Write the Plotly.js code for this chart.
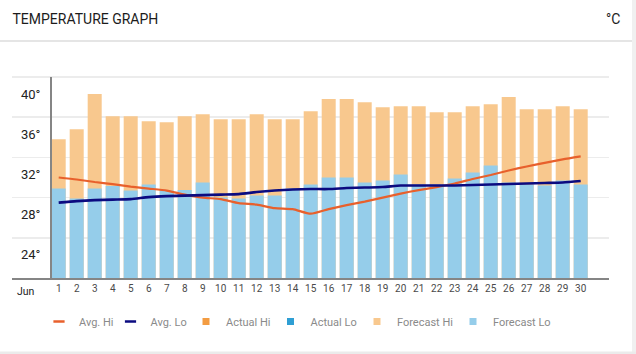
<!DOCTYPE html>
<html>
<head>
<meta charset="utf-8">
<script src="https://cdn.plot.ly/plotly-3.0.1.min.js"></script>
<style>
html,body{margin:0;padding:0;background:#fff;overflow:hidden;}
#chart{width:636px;height:354px;}
</style>
</head>
<body>
<div id="chart"></div>
<script>
// ---- data ----
const days = [1,2,3,4,5,6,7,8,9,10,11,12,13,14,15,16,17,18,19,20,21,22,23,24,25,26,27,28,29,30];
const dayLabels = ['1','2','3','4','5','6','7','8','9','10','11','12','13','14','15','16','17','18','19','20','21','22','23','24','25','26','27','28','29','30'];
const monthLabel = 'Jun';
const yTickVals = [24, 28, 32, 36, 40];
const yTickText = ['24°', '28°', '32°', '36°', '40°'];
const forecastHi = [33.8, 34.8, 38.3, 36.1, 36.1, 35.6, 35.5, 36.1, 36.3, 35.8,
                    35.8, 36.3, 35.8, 35.8, 36.6, 37.8, 37.8, 37.5, 37.0, 37.1,
                    37.1, 36.5, 36.5, 37.1, 37.3, 38.0, 36.8, 36.8, 37.1, 36.8];
const forecastLo = [28.9, 27.9, 28.9, 29.15, 28.7, 29.3, 28.7, 28.75, 29.5, 28.0,
                    27.9, 28.2, 28.2, 28.9, 29.3, 30.0, 30.0, 29.5, 29.7, 30.3,
                    29.3, 29.3, 29.9, 30.5, 31.2, 29.5, 29.3, 29.2, 29.7, 29.3];
const avgHi = [30.0, 29.8, 29.55, 29.35, 29.1, 28.9, 28.7, 28.3, 28.0, 27.85,
               27.45, 27.3, 26.95, 26.85, 26.4, 26.85, 27.25, 27.6, 28.0, 28.4,
               28.75, 29.05, 29.4, 29.85, 30.25, 30.7, 31.1, 31.45, 31.8, 32.1];
const avgLo = [27.5, 27.65, 27.75, 27.8, 27.85, 28.05, 28.15, 28.2, 28.25, 28.3,
               28.35, 28.55, 28.7, 28.8, 28.85, 28.85, 28.95, 29.0, 29.05, 29.2,
               29.2, 29.2, 29.2, 29.25, 29.3, 29.35, 29.4, 29.45, 29.5, 29.65];
const actualHi = [];
const actualLo = [];
const seriesNames = ['Avg. Hi', 'Avg. Lo', 'Actual Hi', 'Actual Lo', 'Forecast Hi', 'Forecast Lo'];

// ---- styles ----
const colors = {
  avgHi: '#e8602c', avgLo: '#0b0b80',
  actualHi: '#f39c42', actualLo: '#2f9fd4',
  forecastHi: '#f8c88e', forecastLo: '#95cdea'
};
const W = 636, H = 354;
const M = {l: 12, r: 27, t: 75, b: 76};
const plotW = W - M.l - M.r, plotH = H - M.t - M.b;
const px2paperX = p => (p - M.l) / plotW;
const px2paperY = p => (H - M.b - p) / plotH;
const FONT = 'Roboto, "Open Sans", sans-serif';

const traces = [
  {type: 'bar', x: days, y: forecastHi, name: seriesNames[4], marker: {color: colors.forecastHi},
   showlegend: false, hoverinfo: 'skip'},
  {type: 'bar', x: days, y: forecastLo, name: seriesNames[5], marker: {color: colors.forecastLo},
   showlegend: false, hoverinfo: 'skip'},
  {type: 'bar', x: actualHi.map((v, i) => days[i]), y: actualHi, name: seriesNames[2],
   marker: {color: colors.actualHi}, showlegend: false},
  {type: 'bar', x: actualLo.map((v, i) => days[i]), y: actualLo, name: seriesNames[3],
   marker: {color: colors.actualLo}, showlegend: false},
  {type: 'scatter', mode: 'lines', x: days, y: avgHi, name: seriesNames[0],
   line: {color: colors.avgHi, width: 2.2, shape: 'spline', smoothing: 0.6}, showlegend: false, hoverinfo: 'skip'},
  {type: 'scatter', mode: 'lines', x: days, y: avgLo, name: seriesNames[1],
   line: {color: colors.avgLo, width: 2.6, shape: 'spline', smoothing: 0.6}, showlegend: false, hoverinfo: 'skip'}
];

// legend entries (one small legend per item to match spacing)
const legendSpec = [
  {name: seriesNames[0], symbol: 'line-ew', color: colors.avgHi, textX: 76},
  {name: seriesNames[1], symbol: 'line-ew', color: colors.avgLo, textX: 147.5},
  {name: seriesNames[2], symbol: 'square', color: colors.actualHi, textX: 223},
  {name: seriesNames[3], symbol: 'square', color: colors.actualLo, textX: 307.5},
  {name: seriesNames[4], symbol: 'square', color: colors.forecastHi, textX: 394},
  {name: seriesNames[5], symbol: 'square', color: colors.forecastLo, textX: 490}
];
const layoutLegends = {};
legendSpec.forEach((s, i) => {
  const key = i === 0 ? 'legend' : 'legend' + (i + 1);
  const marker = s.symbol === 'line-ew'
    ? {symbol: 'line-ew', size: 8, line: {color: s.color, width: 2.5}, color: s.color}
    : {symbol: 'square', size: 7, color: s.color, line: {width: 0}};
  traces.push({type: 'scatter', mode: 'markers', x: [null], y: [null], name: s.name,
               legend: key, marker: marker, showlegend: true, hoverinfo: 'skip'});
  layoutLegends[key] = {
    xref: 'container', yref: 'container',
    x: (s.textX - 37) / W, xanchor: 'left',
    y: 1 - 321.5 / H, yanchor: 'middle',
    orientation: 'h', bgcolor: 'rgba(0,0,0,0)', borderwidth: 0,
    font: {family: FONT, size: 11, color: '#8a8a8a'},
    itemclick: false, itemdoubleclick: false
  };
});

const layout = Object.assign({
  width: W, height: H,
  margin: M,
  paper_bgcolor: '#ffffff', plot_bgcolor: '#ffffff',
  barmode: 'overlay', bargap: 0.222,
  title: {text: 'TEMPERATURE GRAPH', xref: 'container', yref: 'container',
          x: 12.5 / W, xanchor: 'left', y: 1 - 19 / H, yanchor: 'middle',
          font: {family: FONT, size: 14, color: '#1c1c1c'}},
  xaxis: {
    range: [days[0] - 2.594, days[0] + 30.572],
    tickmode: 'array', tickvals: days, ticktext: dayLabels,
    ticks: '', showgrid: false, zeroline: false,
    showline: true, linecolor: '#858585', linewidth: 2,
    tickfont: {family: FONT, size: 10, color: '#4a4a4a'},
    fixedrange: true
  },
  yaxis: {
    range: [20, 40.2],
    tickmode: 'array', tickvals: yTickVals, ticktext: yTickText,
    ticks: '', showgrid: true, gridcolor: '#ececec', gridwidth: 1.5,
    zeroline: false, showline: false,
    ticklabelposition: 'inside', ticklabelshift: 17, ticklabelstandoff: 6,
    tickfont: {family: FONT, size: 13, color: '#222222'},
    fixedrange: true
  },
  annotations: [
    {text: '°C', xref: 'paper', yref: 'paper', x: px2paperX(612.5), y: px2paperY(19),
     xanchor: 'center', yanchor: 'middle', showarrow: false,
     font: {family: FONT, size: 14, color: '#1c1c1c'}},
    {text: monthLabel, xref: 'paper', yref: 'paper', x: px2paperX(25.5), y: px2paperY(291),
     xanchor: 'center', yanchor: 'middle', showarrow: false,
     font: {family: FONT, size: 10.5, color: '#222222'}}
  ],
  shapes: [
    // vertical axis line left of first bar
    {type: 'line', xref: 'x', yref: 'paper', x0: days[0] - 0.428, x1: days[0] - 0.428, y0: 0, y1: px2paperY(77),
     line: {color: '#858585', width: 2}},
    // header separator
    {type: 'line', xref: 'paper', yref: 'paper', x0: px2paperX(0), x1: px2paperX(632), y0: px2paperY(41), y1: px2paperY(41),
     line: {color: '#dcdcdc', width: 1.5}},
    // right scrollbar strip
    {type: 'rect', xref: 'paper', yref: 'paper', x0: px2paperX(632), x1: px2paperX(637), y0: px2paperY(355), y1: px2paperY(-1),
     fillcolor: '#f0f0f0', line: {width: 0}},
    // bottom border
    {type: 'rect', xref: 'paper', yref: 'paper', x0: px2paperX(-1), x1: px2paperX(637), y0: px2paperY(355), y1: px2paperY(351.5),
     fillcolor: '#ebebeb', line: {width: 0}}
  ],
  showlegend: true
}, layoutLegends);

Plotly.newPlot('chart', traces, layout, {displayModeBar: false, staticPlot: true});
</script>
</body>
</html>
